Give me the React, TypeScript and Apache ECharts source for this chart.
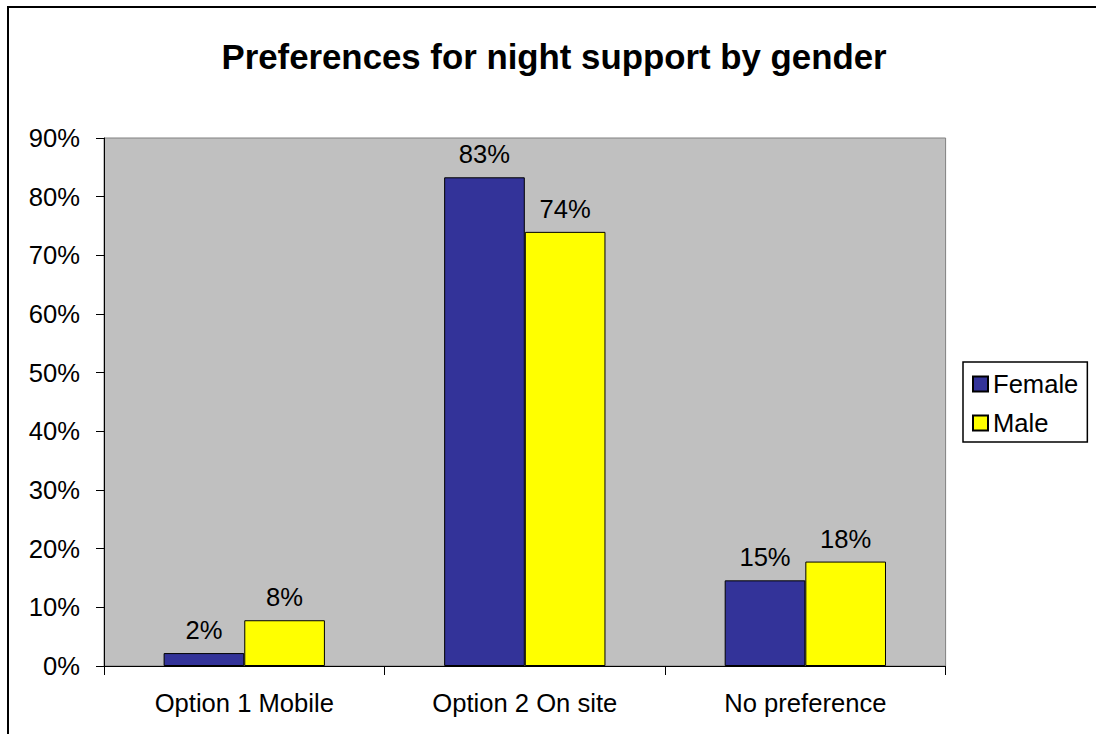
import React, { useEffect, useRef } from "react";
import * as echarts from "echarts";

const categories = ["Option 1 Mobile", "Option 2 On site", "No preference"];
const femaleValues = [2.2, 83.3, 14.6];
const maleValues = [7.8, 74.0, 17.8];
const seriesNames = ["Female", "Male"];
const title = "Preferences for night support by gender";

const FONT = "'Liberation Sans', Arial, sans-serif";
const FS = 25.6;

export default function App() {
  const ref = useRef<HTMLDivElement>(null);
  useEffect(() => {
    if (!ref.current) return;
    const chart = echarts.init(ref.current, null, { renderer: "svg" });
    const label = {
      show: true,
      position: "top",
      distance: 10,
      color: "#000",
      fontSize: FS,
      fontFamily: FONT,
      formatter: (p: any) => Math.round(p.value) + "%",
    };
    chart.setOption({
      animation: false,
      backgroundColor: "#fff",
      textStyle: { fontFamily: FONT },
      title: {
        text: title,
        left: 549,
        top: 34,
        textAlign: "center",
        textStyle: { fontSize: 34.8, fontWeight: "bold", color: "#000", fontFamily: FONT },
      },
      graphic: [
        {
          type: "rect",
          shape: { x: 8, y: 7, width: 1200, height: 800 },
          style: { fill: "none", stroke: "#000", lineWidth: 2 },
          silent: true,
          z: 100,
        },
      ],
      legend: {
        orient: "vertical",
        left: 963,
        top: 362,
        padding: [9, 9, 6, 9],
        borderColor: "#000",
        borderWidth: 1.5,
        itemWidth: 15,
        itemHeight: 15,
        itemGap: 13,
        itemTextGap: 9,
        icon: "rect",
        textStyle: { fontSize: FS, color: "#000", fontFamily: FONT },
        data: seriesNames,
      },
      grid: {
        left: 104,
        top: 138,
        right: 150.4,
        bottom: 68,
        show: true,
        backgroundColor: "#C0C0C0",
        borderColor: "#808080",
        borderWidth: 1,
        containLabel: false,
      },
      xAxis: {
        type: "category",
        data: categories,
        axisLine: { show: true, lineStyle: { color: "#000", width: 1 } },
        axisTick: { show: true, length: 9, alignWithLabel: false, lineStyle: { color: "#000" } },
        axisLabel: { fontSize: FS, color: "#000", margin: 24, fontFamily: FONT, interval: 0 },
        splitLine: { show: false },
      },
      yAxis: {
        type: "value",
        min: 0,
        max: 90,
        interval: 10,
        axisLine: { show: true, lineStyle: { color: "#000", width: 1 } },
        axisTick: { show: true, length: 8, lineStyle: { color: "#000" } },
        axisLabel: { fontSize: FS, color: "#000", margin: 24, fontFamily: FONT, formatter: "{value}%" },
        splitLine: { show: false },
      },
      series: [
        {
          name: seriesNames[0],
          type: "bar",
          data: femaleValues,
          barWidth: "28.75%",
          barGap: "0%",
          itemStyle: { color: "#333399", borderColor: "#000", borderWidth: 1 },
          label,
        },
        {
          name: seriesNames[1],
          type: "bar",
          data: maleValues,
          barWidth: "28.75%",
          barGap: "0%",
          itemStyle: { color: "#FFFF00", borderColor: "#000", borderWidth: 1 },
          label,
        },
      ],
    });
    return () => chart.dispose();
  }, []);
  return (
    <div
      ref={ref}
      style={{ position: "fixed", left: 0, top: 0, width: 1096, height: 734 }}
    />
  );
}
